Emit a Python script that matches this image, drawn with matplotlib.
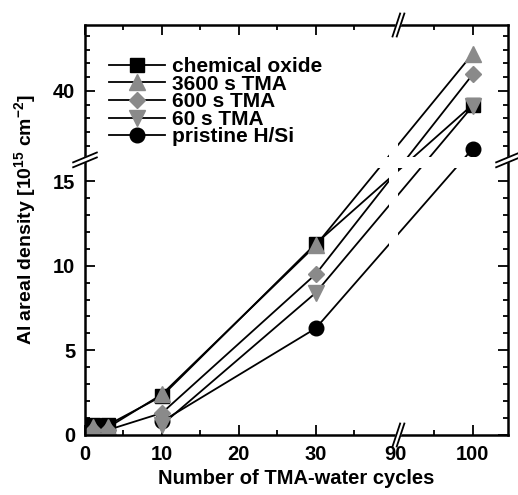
import numpy as np
import matplotlib
matplotlib.use('Agg')
import matplotlib.pyplot as plt

plt.rcParams['font.family'] = ['Liberation Sans', 'DejaVu Sans']
plt.rcParams['font.weight'] = 'bold'
plt.rcParams['mathtext.fontset'] = 'custom'
plt.rcParams['mathtext.rm'] = 'Liberation Sans:bold'
plt.rcParams['mathtext.default'] = 'rm'

# data
cycles = [1, 3, 10, 30, 100]
chem_oxide = [0.6, 0.6, 2.3, 11.3, 39.0]
tma_3600 = [0.45, 0.45, 2.4, 11.2, 42.7]
tma_600 = [0.3, 0.3, 1.3, 9.5, 41.2]
cycles_short = [10, 30, 100]
tma_60 = [0.6, 8.4, 38.9]
pristine = [0.8, 6.3, 35.8]

x_major = [0, 10, 20, 30, 90, 100]
x_minor = [5, 15, 25, 35, 95]
y_major = [0, 5, 10, 15, 40]
y_minor = [1, 2, 3, 4, 6, 7, 8, 9, 11, 12, 13, 14, 16, 35, 36, 37, 38, 39, 41, 42, 43, 44]

GRAY = '#8a8a8a'


# broken axes done as piecewise linear scales
def fx(x):
  x = np.asarray(x, float)
  return np.where(x <= 39.5, x, np.where(x >= 90, x - 49.6, 39.5 + (x - 39.5) * 0.9 / 50.5))

def fx_inv(u):
  u = np.asarray(u, float)
  return np.where(u <= 39.5, u, np.where(u >= 40.4, u + 49.6, 39.5 + (u - 39.5) * 50.5 / 0.9))

def fy(y):
  y = np.asarray(y, float)
  return np.where(y <= 16, y, np.where(y >= 35, 16.26 + (y - 35) * 0.812, 16 + (y - 16) * 0.26 / 19))

def fy_inv(u):
  u = np.asarray(u, float)
  return np.where(u <= 16, u, np.where(u >= 16.26, 35 + (u - 16.26) / 0.812, 16 + (u - 16) * 19 / 0.26))


fig = plt.figure(figsize=(5.18, 4.95), dpi=100)
ax = fig.add_axes([85 / 518, 1 - 435 / 495, 423 / 518, 410 / 495])
ax.set_xscale('function', functions=(fx, fx_inv))
ax.set_yscale('function', functions=(fy, fy_inv))

lw = 1.3
ax.plot(cycles_short, pristine, '-o', color='black', mfc='black', mec='black', ms=10.5, lw=lw,
        label='pristine H/Si', zorder=2)
ax.plot(cycles, chem_oxide, '-s', color='black', mfc='black', mec='black', ms=10.5, lw=lw,
        label='chemical oxide', zorder=2.05)
ax.plot(cycles, tma_3600, '-^', color='black', mfc=GRAY, mec=GRAY, ms=11.5, lw=lw,
        label='3600 s TMA', zorder=2.1)
ax.plot(cycles, tma_600, '-D', color='black', mfc=GRAY, mec=GRAY, ms=8.5, lw=lw,
        label='600 s TMA', zorder=2.1)
ax.plot(cycles_short, tma_60, '-v', color='black', mfc=GRAY, mec=GRAY, ms=11.5, lw=lw,
        label='60 s TMA', zorder=2.1)

# white gaps where the lines cross the breaks
ax.axvspan(39.5, 90.3, color='white', lw=0, zorder=2.3)
ax.axhspan(15.8, 35.2, color='white', lw=0, zorder=2.3)

ax.set_xlim(0, 104.6)
ax.set_ylim(0, 44.8)
ax.set_xticks(x_major)
ax.set_xticks(x_minor, minor=True)
ax.set_yticks(y_major)
ax.set_yticks(y_minor, minor=True)
ax.tick_params(which='both', direction='in', top=True, right=True, width=1.3,
               labelsize=14.5, pad=7)
ax.tick_params(which='major', length=7.5)
ax.tick_params(which='minor', length=3.8)
for s in ax.spines.values():
  s.set_linewidth(1.8)

ax.set_xlabel('Number of TMA-water cycles', fontsize=14.5, fontweight='bold', labelpad=4)
ax.set_ylabel('Al areal density [10$^{15}$ cm$^{-2}$]', fontsize=14, fontweight='bold')
ax.yaxis.set_label_coords(-0.112, 0.525)

# break marks
xb, yb = 0.738, 0.671
for y0 in (0.0, 1.0):
  ax.plot([xb - 0.006, xb + 0.012], [y0 - 0.028, y0 + 0.028], color='white', lw=4,
          transform=ax.transAxes, clip_on=False, zorder=5, solid_capstyle='butt')
  for d in (-0.005, 0.005):
    ax.plot([xb - 0.006 + d, xb + 0.012 + d], [y0 - 0.028, y0 + 0.028], color='black', lw=1.3,
            transform=ax.transAxes, clip_on=False, zorder=6)
for x0 in (0.0, 1.0):
  ax.plot([x0 - 0.028, x0 + 0.028], [yb - 0.012, yb + 0.012], color='white', lw=4,
          transform=ax.transAxes, clip_on=False, zorder=5, solid_capstyle='butt')
  for d in (-0.006, 0.006):
    ax.plot([x0 - 0.028, x0 + 0.028], [yb - 0.012 + d, yb + 0.012 + d], color='black', lw=1.3,
            transform=ax.transAxes, clip_on=False, zorder=6)

h, l = ax.get_legend_handles_labels()
order = ['chemical oxide', '3600 s TMA', '600 s TMA', '60 s TMA', 'pristine H/Si']
hd = dict(zip(l, h))
leg = ax.legend([hd[k] for k in order], order, loc='upper left', bbox_to_anchor=(0.022, 0.957),
                frameon=False, handlelength=2.7, handletextpad=0.35,
                labelspacing=-0.07, borderpad=0.2, prop={'weight': 'bold', 'size': 15})

fig.savefig('out.png', dpi=100)
